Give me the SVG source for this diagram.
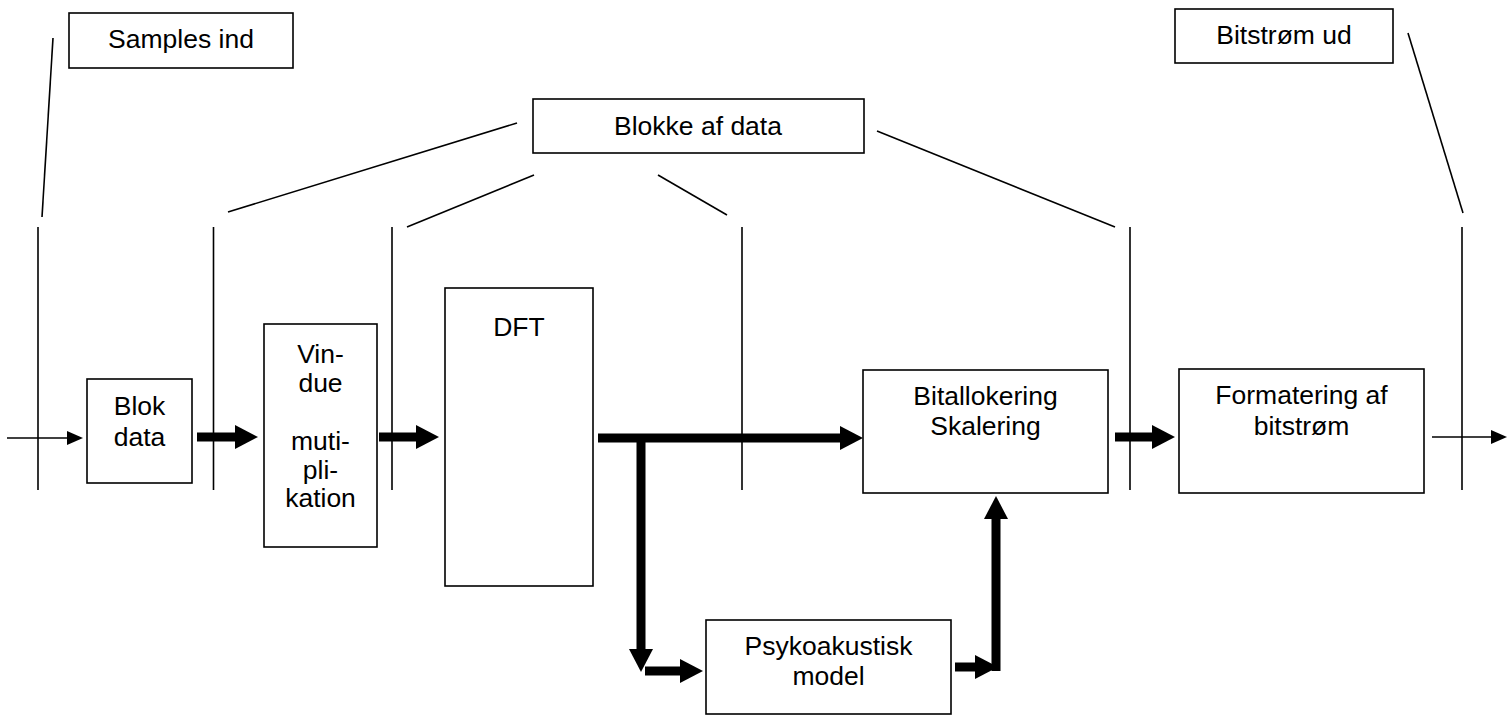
<svg xmlns="http://www.w3.org/2000/svg" width="1507" height="715" viewBox="0 0 1507 715">
<style>
.box{fill:#fff;stroke:#000;stroke-width:1.6}
.t{font-family:"Liberation Sans",Arial,sans-serif;font-size:26.5px;fill:#000;text-anchor:middle}
.thin{stroke:#000;stroke-width:1.6;fill:none}
.thick{stroke:#000;stroke-width:9;fill:none}
</style>
<defs>
<marker id="hk" markerUnits="userSpaceOnUse" markerWidth="24" markerHeight="24" viewBox="0 0 24 24" refX="0" refY="12" orient="auto">
<path d="M0,0 L23,12 L0,24 z" fill="#000"/>
</marker>
<marker id="hn" markerUnits="userSpaceOnUse" markerWidth="16" markerHeight="14" viewBox="0 0 16 14" refX="0" refY="7" orient="auto">
<path d="M0,0 L16,7 L0,14 z" fill="#000"/>
</marker>
</defs>
<rect width="1507" height="715" fill="#fff"/>

<g id="connectors">
<line class="thin" x1="53" y1="38" x2="42" y2="217"/>
<line class="thin" x1="228" y1="212" x2="517" y2="123"/>
<line class="thin" x1="407" y1="227" x2="534" y2="175"/>
<line class="thin" x1="658" y1="175" x2="727" y2="215"/>
<line class="thin" x1="877" y1="131" x2="1115" y2="227"/>
<line class="thin" x1="1408" y1="33" x2="1463" y2="213"/>
<line class="thin" x1="38" y1="227" x2="38" y2="490"/>
<line class="thin" x1="213.5" y1="227" x2="213.5" y2="490"/>
<line class="thin" x1="392" y1="227" x2="392" y2="490"/>
<line class="thin" x1="742" y1="227" x2="742" y2="490"/>
<line class="thin" x1="1130" y1="227" x2="1130" y2="490"/>
<line class="thin" x1="1462" y1="227" x2="1462" y2="490"/>
<line class="thin" x1="7" y1="438" x2="67" y2="438" marker-end="url(#hn)"/>
<line class="thin" x1="1432" y1="437" x2="1491" y2="437" marker-end="url(#hn)"/>
<line class="thick" x1="197" y1="437" x2="235" y2="437" marker-end="url(#hk)"/>
<line class="thick" x1="379" y1="437" x2="416" y2="437" marker-end="url(#hk)"/>
<line class="thick" x1="598" y1="438" x2="840" y2="438" marker-end="url(#hk)"/>
<line class="thick" x1="641" y1="434" x2="641" y2="649" marker-end="url(#hk)"/>
<line class="thick" x1="645" y1="671" x2="680" y2="671" marker-end="url(#hk)"/>
<line class="thick" x1="955" y1="667" x2="975" y2="667" marker-end="url(#hk)"/>
<line class="thick" x1="996" y1="671" x2="996" y2="519" marker-end="url(#hk)"/>
<line class="thick" x1="1115" y1="437" x2="1152" y2="437" marker-end="url(#hk)"/>
</g>

<g id="samples-ind">
<rect class="box" x="69" y="13" width="224" height="55"/>
<text class="t" x="181" y="48">Samples ind</text>
</g>
<g id="blokke-af-data">
<rect class="box" x="533" y="99" width="331" height="54"/>
<text class="t" x="698" y="135">Blokke af data</text>
</g>
<g id="bitstroem-ud">
<rect class="box" x="1175" y="9" width="218" height="54"/>
<text class="t" x="1284" y="44">Bitstrøm ud</text>
</g>
<g id="blok-data">
<rect class="box" x="87" y="379" width="105" height="104"/>
<text class="t" x="139.5" y="415">Blok</text>
<text class="t" x="139.5" y="446">data</text>
</g>
<g id="vindue">
<rect class="box" x="264" y="324" width="113" height="223"/>
<text class="t" x="320.5" y="363">Vin-</text>
<text class="t" x="320.5" y="392">due</text>
<text class="t" x="320.5" y="450">muti-</text>
<text class="t" x="320.5" y="478.5">pli-</text>
<text class="t" x="320.5" y="507">kation</text>
</g>
<g id="dft">
<rect class="box" x="445" y="288" width="148" height="298"/>
<text class="t" x="519" y="336">DFT</text>
</g>
<g id="bitallokering">
<rect class="box" x="863" y="370" width="245" height="123"/>
<text class="t" x="985.5" y="405">Bitallokering</text>
<text class="t" x="985.5" y="435">Skalering</text>
</g>
<g id="formatering">
<rect class="box" x="1179" y="369" width="245" height="124"/>
<text class="t" x="1301.5" y="404">Formatering af</text>
<text class="t" x="1301.5" y="435">bitstrøm</text>
</g>
<g id="psykoakustisk">
<rect class="box" x="706" y="620" width="245" height="94"/>
<text class="t" x="828.5" y="655">Psykoakustisk</text>
<text class="t" x="828.5" y="685">model</text>
</g>
</svg>
